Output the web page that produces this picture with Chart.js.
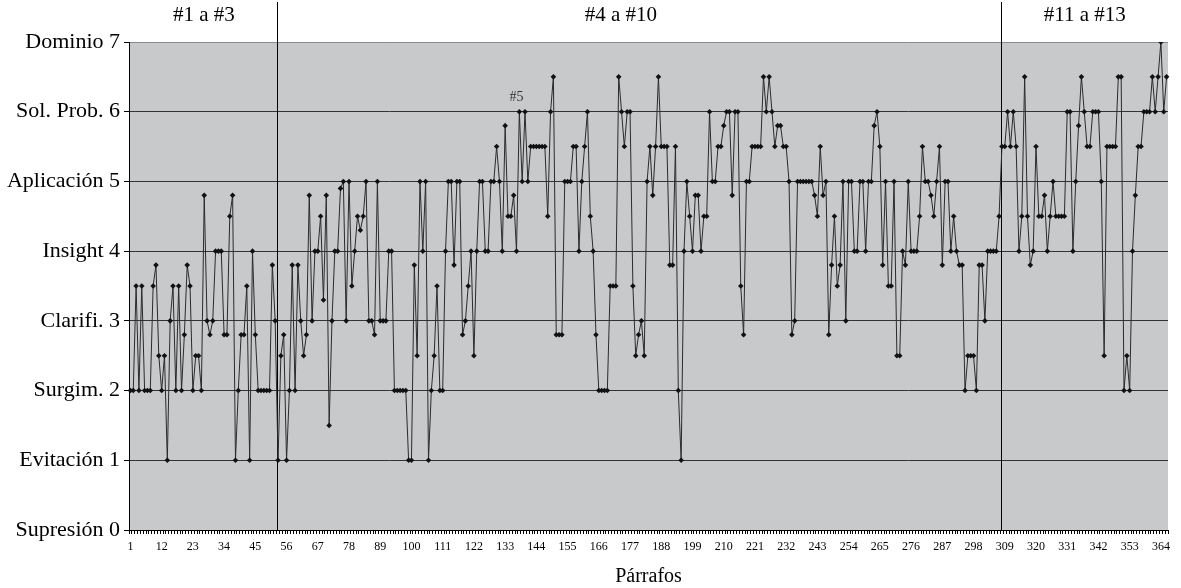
<!DOCTYPE html>
<html><head><meta charset="utf-8">
<script src="https://cdn.jsdelivr.net/npm/chart.js@4"></script>
<style>html,body{margin:0;padding:0;background:#fff}#wrap{width:1181px;height:588px;position:relative}</style>
</head><body><div id="wrap"><canvas id="c"></canvas></div>
<script>
const levelNames = ['Supresión','Evitación','Surgim.','Clarifi.','Insight','Aplicación','Sol. Prob.','Dominio'];
const sectionNames = ['#1 a #3','#4 a #10','#11 a #13'];
const sectionStarts = [0, 52, 307];      // 0-based index of first paragraph of each section
const headerAt = [25.9, 172.8, 336.2];   // category position of each section label
const tickEvery = 11;

const section1 = [
 2,2,3.5,2,3.5,2,2,2,3.5,3.8,
 2.5,2,2.5,1,3,3.5,2,3.5,2,2.8,
 3.8,3.5,2,2.5,2.5,2,4.8,3,2.8,3,
 4,4,4,2.8,2.8,4.5,4.8,1,2,2.8,
 2.8,3.5,1,4,2.8,2,2,2,2,2,
 3.8,3
];
const section2 = [
 1,2.5,2.8,1,2,3.8,2,3.8,3,2.5,
 2.8,4.8,3,4,4,4.5,3.3,4.8,1.5,3,
 4,4,4.9,5,3,5,3.5,4,4.5,4.3,
 4.5,5,3,3,2.8,5,3,3,3,4,
 4,2,2,2,2,2,1,1,3.8,2.5,
 5,4,5,1,2,2.5,3.5,2,2,4,
 5,5,3.8,5,5,2.8,3,3.5,4,2.5,
 4,5,5,4,4,5,5,5.5,5,4,
 5.8,4.5,4.5,4.8,4,6,5,6,5,5.5,
 5.5,5.5,5.5,5.5,5.5,4.5,6,6.5,2.8,2.8,
 2.8,5,5,5,5.5,5.5,4,5,5.5,6,
 4.5,4,2.8,2,2,2,2,3.5,3.5,3.5,
 6.5,6,5.5,6,6,3.5,2.5,2.8,3,2.5,
 5,5.5,4.8,5.5,6.5,5.5,5.5,5.5,3.8,3.8,
 5.5,2,1,4,5,4.5,4,4.8,4.8,4,
 4.5,4.5,6,5,5,5.5,5.5,5.8,6,6,
 4.8,6,6,3.5,2.8,5,5,5.5,5.5,5.5,
 5.5,6.5,6,6.5,6,5.5,5.8,5.8,5.5,5.5,
 5,2.8,3,5,5,5,5,5,5,4.8,
 4.5,5.5,4.8,5,2.8,3.8,4.5,3.5,3.8,5,
 3,5,5,4,4,5,5,4,5,5,
 5.8,6,5.5,3.8,5,3.5,3.5,5,2.5,2.5,
 4,3.8,5,4,4,4,4.5,5.5,5,5,
 4.8,4.5,5,5.5,3.8,5,5,4,4.5,4,
 3.8,3.8,2,2.5,2.5,2.5,2,3.8,3.8,3,
 4,4,4,4,4.5
];
const section3 = [
 5.5,5.5,6,5.5,6,5.5,4,4.5,6.5,4.5,
 3.8,4,5.5,4.5,4.5,4.8,4,4.5,5,4.5,
 4.5,4.5,4.5,6,6,4,5,5.8,6.5,6,
 5.5,5.5,6,6,6,5,2.5,5.5,5.5,5.5,
 5.5,6.5,6.5,2,2.5,2,4,4.8,5.5,5.5,
 6,6,6,6.5,6,6.5,7,6,6.5
];
const values = section1.concat(section2, section3);
const paragraphs = values.map((v, i) => String(i + 1));

const overlay = {
  id: 'overlay',
  beforeDraw(chart) {
    const {ctx, chartArea: a} = chart;
    ctx.save();
    ctx.fillStyle = '#c8c9cb';
    ctx.fillRect(a.left, a.top, a.right - a.left, a.bottom - a.top);
    ctx.restore();
  },
  beforeDatasetsDraw(chart) {
    const {ctx, chartArea: a, scales: {x}} = chart;
    ctx.save();
    ctx.strokeStyle = '#000';
    ctx.lineWidth = 1;
    sectionStarts.slice(1).forEach(s => {
      const px = Math.round(x.getPixelForValue(s - 0.5)) + 0.5;
      ctx.beginPath(); ctx.moveTo(px, 2); ctx.lineTo(px, a.bottom); ctx.stroke();
    });
    ctx.restore();
  },
  afterDraw(chart) {
    const {ctx, scales: {x, y}} = chart;
    ctx.save();
    ctx.fillStyle = '#000';
    ctx.font = '21px "Liberation Serif"';
    ctx.textAlign = 'center';
    ctx.textBaseline = 'middle';
    sectionNames.forEach((n, i) => ctx.fillText(n, x.getPixelForValue(headerAt[i]), 15));
    ctx.font = '14px "Liberation Serif"';
    ctx.fillStyle = '#333';
    ctx.fillText('#5', x.getPixelForValue(136), y.getPixelForValue(6.2));
    ctx.restore();
  }
};

new Chart(document.getElementById('c'), {
  type: 'line',
  data: {
    labels: paragraphs,
    datasets: [{
      data: values,
      borderColor: '#2b2b2b',
      borderWidth: 1,
      pointStyle: 'rectRot',
      pointRadius: 2.8,
      pointBackgroundColor: '#111',
      pointBorderColor: '#111',
      pointBorderWidth: 0,
      tension: 0
    }]
  },
  options: {
    responsive: true,
    maintainAspectRatio: false,
    animation: false,
    layout: {padding: {top: 42, right: 13, left: 0, bottom: 0}},
    plugins: {legend: {display: false}, tooltip: {enabled: false}},
    scales: {
      x: {
        type: 'category',
        offset: true,
        grid: {drawOnChartArea: false, drawTicks: true, tickLength: 4, color: '#000', offset: true},
        border: {display: true, color: '#000', width: 1},
        ticks: {
          autoSkip: false, maxRotation: 0, minRotation: 0, padding: 6, color: '#000',
          font: {family: 'Liberation Serif', size: 12},
          callback: (v, i) => (i % tickEvery === 0 ? paragraphs[i] : '')
        },
        title: {display: true, text: 'Párrafos', color: '#000',
                font: {family: 'Liberation Serif', size: 20, lineHeight: 1.1}, padding: 0},
        afterFit(s) { s.height = 58; }
      },
      y: {
        min: 0, max: 7,
        ticks: {stepSize: 1, color: '#000', padding: 4,
                font: {family: 'Liberation Serif', size: 22},
                callback: v => levelNames[v] + ' ' + v},
        grid: {color: c => (c.tick && c.tick.value === 7 ? '#8a8a8a' : '#333'),
               tickColor: '#000', tickLength: 5, lineWidth: 1},
        border: {display: true, color: '#000'},
        afterFit(s) { s.width = 129; }
      }
    }
  },
  plugins: [overlay]
});
</script>
</body></html>
